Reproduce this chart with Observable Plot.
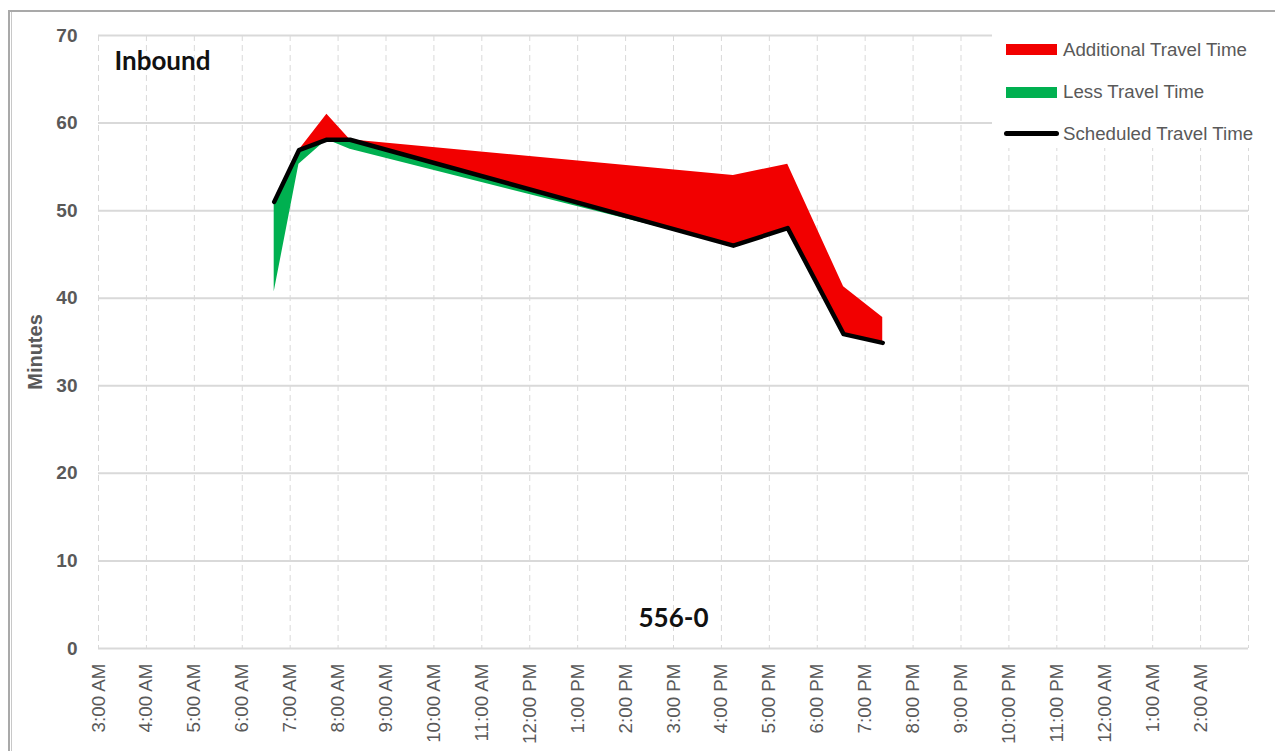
<!DOCTYPE html>
<html>
<head>
<meta charset="utf-8">
<script src="https://cdn.jsdelivr.net/npm/d3@7"></script>
<script src="https://cdn.jsdelivr.net/npm/@observablehq/plot@0.6"></script>
<style>
  body { margin: 0; background: #fff; }
  #wrap { position: relative; width: 1275px; height: 751px; overflow: hidden; background: #fff;
          font-family: "Liberation Sans", Arial, sans-serif; }
  #chart { position: absolute; left: 0; top: 0; }
  .border-outer { position: absolute; left: 8px; top: 10px; width: 1300px; height: 800px;
                  border-top: 2px solid #a9a9a9; border-left: 2px solid #a9a9a9; }
  .border-inner { position: absolute; left: 11px; top: 12px; width: 1px; height: 800px; background: #c8c8c8; }
  #legend { position: absolute; left: 992px; top: 26px; width: 283px; height: 122px; background: #fff; }
  .sw { position: absolute; }
  .lt { position: absolute; font-size: 18.7px; color: #595959; line-height: 20px; white-space: nowrap; }
</style>
</head>
<body>
<div id="wrap">
  <div id="chart"></div>
  <div class="border-outer"></div>
  <div class="border-inner"></div>
  <div id="legend"></div>
</div>
<script>
// ---- data (route 556-0, Inbound) ----
const tripTimes = ["6:40", "7:11", "7:46", "8:15", "16:15", "17:23", "18:33", "19:22"];
const scheduledMinutes = [51.0, 56.9, 58.1, 58.1, 46.0, 48.0, 35.9, 34.9];
const actualMinutes    = [40.7, 55.3, 61.0, 57.0, 54.0, 55.3, 41.3, 37.8];

const yTicks = [0, 10, 20, 30, 40, 50, 60, 70];
const hourTicks = [3, 4, 5, 6, 7, 8, 9, 10, 11, 12, 13, 14, 15, 16, 17, 18, 19, 20, 21, 22, 23, 24, 25, 26];
const hourLabels = ["3:00 AM", "4:00 AM", "5:00 AM", "6:00 AM", "7:00 AM", "8:00 AM", "9:00 AM", "10:00 AM",
  "11:00 AM", "12:00 PM", "1:00 PM", "2:00 PM", "3:00 PM", "4:00 PM", "5:00 PM", "6:00 PM", "7:00 PM",
  "8:00 PM", "9:00 PM", "10:00 PM", "11:00 PM", "12:00 AM", "1:00 AM", "2:00 AM"];
const gridHours = hourTicks.concat([27]);

const legendItems = [
  { label: "Additional Travel Time", color: "#f20000", kind: "area" },
  { label: "Less Travel Time", color: "#00b050", kind: "area" },
  { label: "Scheduled Travel Time", color: "#000000", kind: "line" }
];

// ---- table built like Excel's stacked areas ----
const toHour = t => { const [h, m] = t.split(":").map(Number); return h + m / 60; };
const rows = tripTimes.map((t, i) => {
  const s = scheduledMinutes[i], a = actualMinutes[i];
  const base = Math.min(s, a);
  const greenTop = base + Math.max(s - a, 0);
  const redTop = greenTop + Math.max(a - s, 0);
  return { hour: toHour(t), scheduled: s, actual: a, base, greenTop, redTop };
});

const gray = "#595959";
const chart = Plot.plot({
  width: 1275,
  height: 751,
  marginLeft: 98,
  marginRight: 27,
  marginTop: 35,
  marginBottom: 103,
  style: { fontFamily: "'Liberation Sans', Arial, sans-serif", background: "transparent", overflow: "visible" },
  x: { domain: [3, 27] },
  y: { domain: [0, 70] },
  marks: [
    Plot.gridX(gridHours, { stroke: "#d9d9d9", strokeOpacity: 1, strokeWidth: 1, strokeDasharray: "6,4" }),
    Plot.gridY(yTicks.slice(1), { stroke: "#d9d9d9", strokeOpacity: 1, strokeWidth: 2 }),
    Plot.ruleY([0], { stroke: "#d9d9d9", strokeWidth: 2 }),
    Plot.areaY(rows, { x: "hour", y1: "base", y2: "greenTop", fill: "#00b050" }),
    Plot.areaY(rows, { x: "hour", y1: "greenTop", y2: "redTop", fill: "#f20000" }),
    Plot.line(rows, { x: "hour", y: "scheduled", stroke: "#000", strokeWidth: 4.5,
                      strokeLinejoin: "round", strokeLinecap: "round" }),
    Plot.axisY({ ticks: yTicks, tickSize: 0, tickPadding: 21, fontSize: 19, fontWeight: "bold",
                 fill: gray, label: null }),
    Plot.axisX({ ticks: hourTicks, tickFormat: d => hourLabels[hourTicks.indexOf(d)], tickRotate: -90,
                 tickSize: 0, tickPadding: 15, fontSize: 18.8, fill: gray, label: null }),
    Plot.text(["Minutes"], { frameAnchor: "left", dx: -63, dy: 10, rotate: -90, fontSize: 20,
                             fontWeight: "bold", fill: gray, textAnchor: "middle" }),
    Plot.text(["Inbound"], { frameAnchor: "top-left", dx: 16, dy: 26, lineAnchor: "middle",
                             fontFamily: "Lato, 'Open Sans', sans-serif", fontSize: 26, fontWeight: "bold", fill: "#111" }),
    Plot.text(["556-0"], { frameAnchor: "bottom", dy: -30, lineAnchor: "middle",
                           fontFamily: "Lato, 'Open Sans', sans-serif", fontSize: 26, fontWeight: "bold", fill: "#111" })
  ]
});
document.getElementById("chart").appendChild(chart);

// ---- legend ----
const legend = document.getElementById("legend");
const rowCenters = [23.5, 66, 107.5];
legendItems.forEach((it, i) => {
  const sw = document.createElement("div");
  sw.className = "sw";
  if (it.kind === "area") {
    sw.style.cssText = `left:14px;top:${rowCenters[i] - 5.5}px;width:51px;height:11px;background:${it.color};`;
  } else {
    sw.style.cssText = `left:12px;top:${rowCenters[i] - 2.5}px;width:55px;height:5px;border-radius:3px;background:${it.color};`;
  }
  legend.appendChild(sw);
  const tx = document.createElement("div");
  tx.className = "lt";
  tx.style.left = "71px";
  tx.style.top = (rowCenters[i] - 10) + "px";
  tx.textContent = it.label;
  legend.appendChild(tx);
});
</script>
</body>
</html>
